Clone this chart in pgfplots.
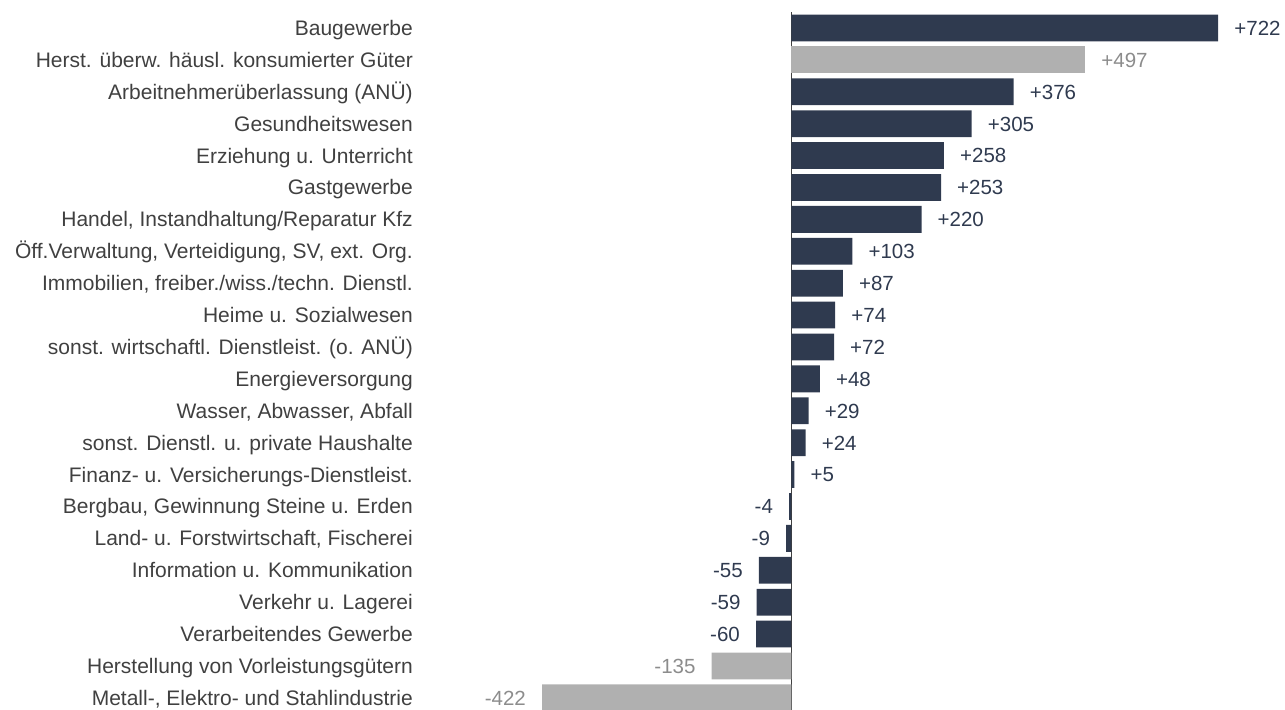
\documentclass[border=0pt]{standalone}
\usepackage{pgfplots}
\pgfplotsset{compat=1.18}
\usepackage{fontspec}
\setmainfont{Liberation Sans}
\definecolor{navy}{HTML}{2F3A4F}
\definecolor{bargray}{HTML}{B0B0B0}
\definecolor{lblgray}{HTML}{8C8C8C}
\definecolor{txt}{HTML}{404040}
\begin{document}
\begin{tikzpicture}
\begin{axis}[
  scale only axis, width=826bp, height=698bp,
  xmin=-637, xmax=760.6, ymin=-0.5, ymax=21.38,
  y dir=reverse,
  xbar, bar width=0.84, bar shift=0pt,
  axis line style={draw=none},
  xtick=\empty,
  ytick={0,...,21},
  yticklabels={Baugewerbe,Herst. überw. häusl. konsumierter Güter,Arbeitnehmerüberlassung (ANÜ),Gesundheitswesen,Erziehung u. Unterricht,Gastgewerbe,{Handel, Instandhaltung/Reparatur Kfz},{Öff.Verwaltung, Verteidigung, SV, ext. Org.},{Immobilien, freiber./wiss./techn. Dienstl.},Heime u. Sozialwesen,sonst. wirtschaftl. Dienstleist. (o. ANÜ),Energieversorgung,{Wasser, Abwasser, Abfall},sonst. Dienstl. u. private Haushalte,Finanz- u. Versicherungs-Dienstleist.,{Bergbau, Gewinnung Steine u. Erden},{Land- u. Forstwirtschaft, Fischerei},Information u. Kommunikation,Verkehr u. Lagerei,Verarbeitendes Gewerbe,Herstellung von Vorleistungsgütern,{Metall-, Elektro- und Stahlindustrie}},
  major tick length=0pt,
  tick style={draw=none},
  yticklabel style={font=\fontsize{21bp}{24bp}\selectfont, text=txt, inner sep=0pt, anchor=east, xshift=-2bp, text height=15bp, text depth=0bp},
  extra x ticks={0}, extra x tick labels={},
  extra x tick style={grid=major, major grid style={draw=txt, line width=1.3bp}},
  clip=true,
  nodes near coords style={font=\fontsize{20.5bp}{24bp}\selectfont, inner sep=0pt, text height=14.7bp, text depth=0bp},
]
\addplot[fill=navy, draw=none, nodes near coords, point meta=explicit symbolic,
  nodes near coords align={anchor=west}, every node near coord/.append style={text=navy, xshift=16bp}]
  coordinates {(722,0)[+722] (376,2)[+376] (305,3)[+305] (258,4)[+258] (253,5)[+253] (220,6)[+220] (103,7)[+103] (87,8)[+87] (74,9)[+74] (72,10)[+72] (48,11)[+48] (29,12)[+29] (24,13)[+24] (5,14)[+5]};
\addplot[fill=navy, draw=none, nodes near coords, point meta=explicit symbolic,
  nodes near coords align={anchor=east}, every node near coord/.append style={text=navy, xshift=-16bp}]
  coordinates {(-4,15)[-4] (-9,16)[-9] (-55,17)[-55] (-59,18)[-59] (-60,19)[-60]};
\addplot[fill=bargray, draw=none, nodes near coords, point meta=explicit symbolic,
  nodes near coords align={anchor=west}, every node near coord/.append style={text=lblgray, xshift=16bp}]
  coordinates {(497,1)[+497]};
\addplot[fill=bargray, draw=none, nodes near coords, point meta=explicit symbolic,
  nodes near coords align={anchor=east}, every node near coord/.append style={text=lblgray, xshift=-16bp}]
  coordinates {(-135,20)[-135] (-422,21)[-422]};
\end{axis}
\pgfresetboundingbox
\path[use as bounding box] ([xshift=-415bp]current axis.south west) rectangle ([xshift=44bp,yshift=12bp]current axis.north east);
\end{tikzpicture}
\end{document}
